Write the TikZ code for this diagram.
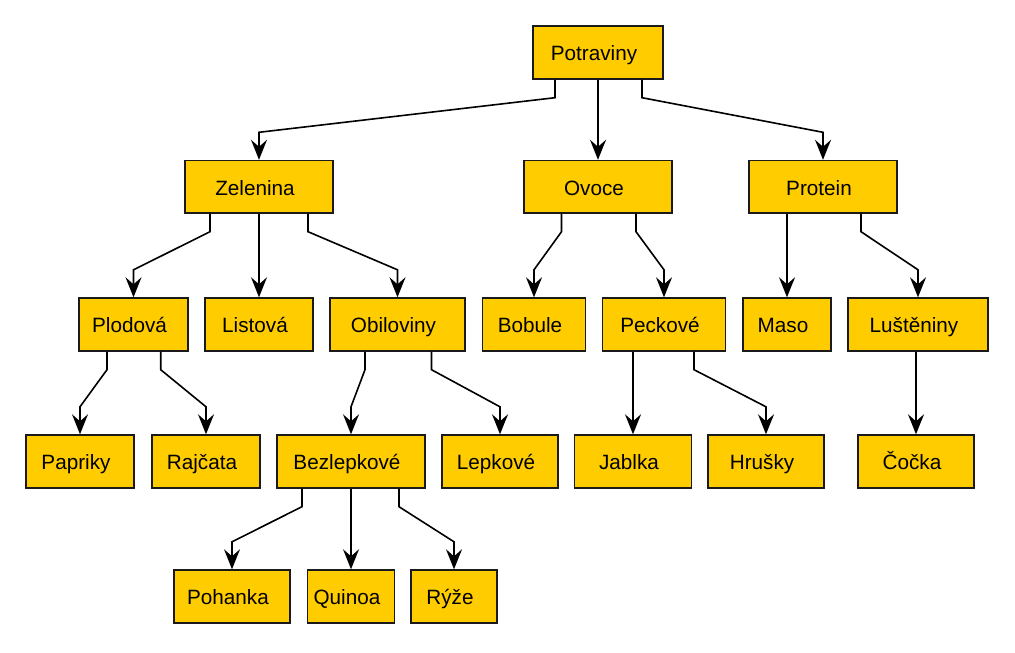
\documentclass[tikz,border=0pt]{standalone}
\usepackage{fontspec}
\setmainfont{Liberation Sans}
\usetikzlibrary{arrows.meta}
\definecolor{boxfill}{HTML}{FFCC00}
\definecolor{boxline}{HTML}{1A1A1A}
\tikzset{
  box/.style={draw=boxline, fill=boxfill, line width=1.4pt, minimum height=53pt,
    inner sep=0pt, text height=16.5pt, text depth=0pt, font=\fontsize{20.7}{24}\selectfont,
    execute at begin node={\hspace*{-8pt}}},
  arr/.style={draw=black, line width=1.6pt, -{Stealth[length=20pt,width=16pt,inset=7pt]}}
}
\newcommand\bentedge[3]{\draw[arr] ([xshift=#2pt]#1.south) -- ++(0,-18pt) -- ([yshift=27.5pt]#3.north) -- (#3.north);}
\newcommand\straightedge[2]{\draw[arr] (#2.north |- #1.south) -- (#2.north);}
\begin{document}
\begin{tikzpicture}[x=1pt,y=-1pt]
\useasboundingbox (0,0) rectangle (1015,653);
% level 0
\node[box, minimum width=130pt] (pot) at (598,52.5) {Potraviny};
% level 1
\node[box, minimum width=148pt, minimum height=52.5pt] (zel) at (259,186.75) {Zelenina};
\node[box, minimum width=148pt, minimum height=52.5pt] (ovo) at (598,186.75) {Ovoce};
\node[box, minimum width=148pt, minimum height=52.5pt] (pro) at (823,186.75) {Protein};
% level 2
\node[box, minimum width=109pt] (plo) at (133.5,324.5) {Plodová};
\node[box, minimum width=108pt] (lis) at (259,324.5) {Listová};
\node[box, minimum width=135pt] (obi) at (397.5,324.5) {Obiloviny};
\node[box, minimum width=103pt] (bob) at (534,324.5) {Bobule};
\node[box, minimum width=123pt] (pec) at (664,324.5) {Peckové};
\node[box, minimum width=88pt] (mas) at (787,324.5) {Maso};
\node[box, minimum width=140pt] (lus) at (918,324.5) {Luštěniny};
% level 3
\node[box, minimum width=108pt] (pap) at (80,461.5) {Papriky};
\node[box, minimum width=108pt] (raj) at (206,461.5) {Rajčata};
\node[box, minimum width=148pt] (bez) at (351,461.5) {Bezlepkové};
\node[box, minimum width=116pt] (lep) at (500,461.5) {Lepkové};
\node[box, minimum width=117pt] (jab) at (633,461.5) {Jablka};
\node[box, minimum width=116pt] (hru) at (766,461.5) {Hrušky};
\node[box, minimum width=116pt] (coc) at (916,461.5) {Čočka};
% level 4
\node[box, minimum width=116pt] (poh) at (232,596.5) {Pohanka};
\node[box, minimum width=87pt] (qui) at (351,596.5) {Quinoa};
\node[box, minimum width=86pt] (ryz) at (454,596.5) {Rýže};
% edges
\bentedge{pot}{-43}{zel}
\straightedge{pot}{ovo}
\bentedge{pot}{44}{pro}
\bentedge{zel}{-49}{plo}
\straightedge{zel}{lis}
\bentedge{zel}{49}{obi}
\bentedge{ovo}{-36.5}{bob}
\bentedge{ovo}{38}{pec}
\straightedge{pro}{mas}
\bentedge{pro}{38}{lus}
\bentedge{plo}{-26.5}{pap}
\bentedge{plo}{27.2}{raj}
\bentedge{obi}{-32.5}{bez}
\bentedge{obi}{34}{lep}
\straightedge{pec}{jab}
\bentedge{pec}{30}{hru}
\straightedge{lus}{coc}
\bentedge{bez}{-49}{poh}
\straightedge{bez}{qui}
\bentedge{bez}{48}{ryz}
\end{tikzpicture}
\end{document}
